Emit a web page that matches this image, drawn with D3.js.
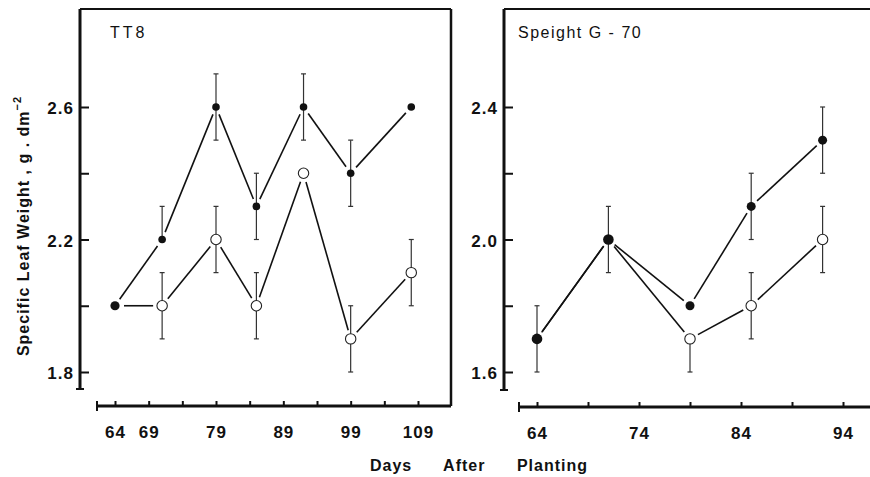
<!DOCTYPE html>
<html>
<head>
<meta charset="utf-8">
<script src="https://cdn.jsdelivr.net/npm/d3@7/dist/d3.min.js"></script>
<style>
body { margin: 0; background: #fff; }
text { font-family: "Liberation Sans", Arial, sans-serif; fill: #111; }
.tick text { font-size: 17px; font-weight: bold; letter-spacing: 1px; }
.tick line { stroke: #111; stroke-width: 2; }
.axisTitle { font-size: 16px; font-weight: bold; letter-spacing: 1px; }
.panelTitle { font-size: 16px; letter-spacing: 1.5px; }
</style>
</head>
<body>
<div id="canvas"></div>
<script>
"use strict"

// ---------------- DATA ----------------
// TT8
let tt8Days = [64, 71, 79, 85, 92, 99, 108]
let tt8Filled = [2.0, 2.2, 2.6, 2.3, 2.6, 2.4, 2.6]
let tt8FilledUp = [0, 0.1, 0.1, 0.1, 0.1, 0.1, 0]
let tt8FilledDown = [0, 0, 0.1, 0.1, 0.1, 0.1, 0]
let tt8Open = [2.0, 2.0, 2.2, 2.0, 2.4, 1.9, 2.1]
let tt8OpenUp = [0, 0.1, 0.1, 0.1, 0, 0.1, 0.1]
let tt8OpenDown = [0, 0.1, 0.1, 0.1, 0, 0.1, 0.1]
let tt8XTicks = [64, 69, 74, 79, 84, 89, 94, 99, 104, 109]
let tt8XLabels = [64, 69, 79, 89, 99, 109]
let tt8YTicks = [1.8, 2.0, 2.2, 2.4, 2.6]
let tt8YLabels = [1.8, 2.2, 2.6]

// Speight G-70
let spDays = [64, 71, 79, 85, 92]
let spFilled = [1.7, 2.0, 1.8, 2.1, 2.3]
let spFilledUp = [0.1, 0.1, 0, 0.1, 0.1]
let spFilledDown = [0.1, 0.1, 0, 0.1, 0.1]
let spOpen = [1.7, 2.0, 1.7, 1.8, 2.0]
let spOpenUp = [0, 0, 0, 0.1, 0.1]
let spOpenDown = [0, 0, 0.1, 0.1, 0.1]
let spXTicks = [64, 69, 74, 79, 84, 89, 94]
let spXLabels = [64, 74, 84, 94]
let spYTicks = [1.6, 1.8, 2.0, 2.2, 2.4]
let spYLabels = [1.6, 2.0, 2.4]

let svg = d3.select("#canvas")
    .append("svg")
    .attr("width", 870)
    .attr("height", 477)

function zipSeries(days, vals, up, down) {
    return days.map(function(d, i) {
        return { day: d, v: vals[i], up: up[i], down: down[i] }
    })
}

// ---------------- PANEL ----------------
function drawPanel(p) {

    let x = d3.scaleLinear().domain(p.xDomain).range(p.xRange)
    let y = d3.scaleLinear().domain(p.yDomain).range(p.yRange)

    let g = svg.append("g")

    // frame: top and right
    g.append("line")
        .attr("x1", p.axisX).attr("x2", p.rightX)
        .attr("y1", p.top).attr("y2", p.top)
        .attr("stroke", "#111").attr("stroke-width", 2)
    if (p.rightFrame) {
        g.append("line")
            .attr("x1", p.rightX).attr("x2", p.rightX)
            .attr("y1", p.top).attr("y2", p.xAxisY)
            .attr("stroke", "#111").attr("stroke-width", 2.5)
    }

    // y axis
    let yAxis = d3.axisLeft(y)
        .tickValues(p.yTicks)
        .tickSize(-9)
        .tickPadding(6)
        .tickFormat(function(d) {
            return p.yLabels.some(function(l) { return Math.abs(l - d) < 1e-9 }) ? d3.format(".1f")(d) : ""
        })
    let ya = g.append("g")
        .attr("transform", `translate(${p.axisX},0)`)
        .call(yAxis)
    ya.select(".domain").remove()
    ya.selectAll(".tick text").attr("dy", "0.4em")
    g.append("line")
        .attr("x1", p.axisX).attr("x2", p.axisX)
        .attr("y1", p.top).attr("y2", p.yBottom)
        .attr("stroke", "#111").attr("stroke-width", 3)
    g.append("line")
        .attr("x1", p.axisX - 4).attr("x2", p.axisX + 4)
        .attr("y1", p.yBottom).attr("y2", p.yBottom)
        .attr("stroke", "#111").attr("stroke-width", 2)

    // x axis
    let xAxis = d3.axisBottom(x)
        .tickValues(p.xTicks)
        .tickSize(-5)
        .tickPadding(20)
        .tickFormat(function(d) { return p.xLabels.includes(d) ? d : "" })
    let xa = g.append("g")
        .attr("transform", `translate(0,${p.xAxisY})`)
        .call(xAxis)
    xa.select(".domain").remove()
    g.append("line")
        .attr("x1", p.xStart).attr("x2", p.rightX)
        .attr("y1", p.xAxisY).attr("y2", p.xAxisY)
        .attr("stroke", "#111").attr("stroke-width", 3)
    g.append("line")
        .attr("x1", p.xStart).attr("x2", p.xStart)
        .attr("y1", p.xAxisY - 5).attr("y2", p.xAxisY + 5)
        .attr("stroke", "#111").attr("stroke-width", 2)

    // panel title
    g.append("text")
        .attr("class", "panelTitle")
        .attr("x", p.titleX)
        .attr("y", 38)
        .style("letter-spacing", p.titleSpacing + "px")
        .text(p.title)

    // connecting lines, stopped short of the markers
    function drawLines(series, gap) {
        for (let i = 0; i < series.length - 1; i++) {
            let x1 = x(series[i].day), y1 = y(series[i].v)
            let x2 = x(series[i + 1].day), y2 = y(series[i + 1].v)
            let len = Math.hypot(x2 - x1, y2 - y1)
            let ux = (x2 - x1) / len, uy = (y2 - y1) / len
            g.append("line")
                .attr("x1", x1 + ux * gap).attr("y1", y1 + uy * gap)
                .attr("x2", x2 - ux * gap).attr("y2", y2 - uy * gap)
                .attr("stroke", "#111")
                .attr("stroke-width", 1.6)
        }
    }
    drawLines(p.open, 9)
    drawLines(p.filled, 8)

    // error bars
    function drawErrors(series) {
        series.forEach(function(d) {
            if (d.up === 0 && d.down === 0) return
            let cx = x(d.day)
            let yTop = y(d.v + d.up), yBot = y(d.v - d.down)
            g.append("line")
                .attr("x1", cx).attr("x2", cx)
                .attr("y1", yTop).attr("y2", yBot)
                .attr("stroke", "#333").attr("stroke-width", 1.2)
            if (d.up > 0) {
                g.append("line")
                    .attr("x1", cx - 2.5).attr("x2", cx + 2.5)
                    .attr("y1", yTop).attr("y2", yTop)
                    .attr("stroke", "#333").attr("stroke-width", 1.2)
            }
            if (d.down > 0) {
                g.append("line")
                    .attr("x1", cx - 2.5).attr("x2", cx + 2.5)
                    .attr("y1", yBot).attr("y2", yBot)
                    .attr("stroke", "#333").attr("stroke-width", 1.2)
            }
        })
    }
    drawErrors(p.open)
    drawErrors(p.filled)

    // where an open point sits under a filled one, only a larger filled dot shows
    function coincides(d, i) {
        return Math.abs(p.filled[i].v - p.open[i].v) < 1e-9
    }

    g.selectAll("circle.open")
        .data(p.open.filter(function(d, i) { return !coincides(d, i) }))
        .enter()
        .append("circle")
        .attr("class", "open")
        .attr("cx", function(d) { return x(d.day) })
        .attr("cy", function(d) { return y(d.v) })
        .attr("r", 5.2)
        .attr("fill", "#fff")
        .attr("stroke", "#222")
        .attr("stroke-width", 1.1)

    g.selectAll("circle.filled")
        .data(p.filled)
        .enter()
        .append("circle")
        .attr("class", "filled")
        .attr("cx", function(d) { return x(d.day) })
        .attr("cy", function(d) { return y(d.v) })
        .attr("r", function(d, i) { return coincides(d, i) ? p.filledR + 0.8 : p.filledR })
        .attr("fill", "#111")
}

drawPanel({
    title: "TT8",
    titleX: 110,
    titleSpacing: 3,
    top: 9,
    axisX: 80,
    rightX: 451,
    rightFrame: true,
    yBottom: 389,
    xAxisY: 406,
    xStart: 97,
    xDomain: [64, 109],
    xRange: [115, 418],
    yDomain: [1.8, 2.6],
    yRange: [372, 107],
    xTicks: tt8XTicks,
    xLabels: tt8XLabels,
    yTicks: tt8YTicks,
    yLabels: tt8YLabels,
    filledR: 3.8,
    filled: zipSeries(tt8Days, tt8Filled, tt8FilledUp, tt8FilledDown),
    open: zipSeries(tt8Days, tt8Open, tt8OpenUp, tt8OpenDown)
})

drawPanel({
    title: "Speight G - 70",
    titleX: 518,
    titleSpacing: 1.5,
    top: 9,
    axisX: 504,
    rightX: 872,
    rightFrame: false,
    yBottom: 390,
    xAxisY: 407,
    xStart: 519,
    xDomain: [64, 94],
    xRange: [537, 843],
    yDomain: [1.6, 2.4],
    yRange: [372, 107],
    xTicks: spXTicks,
    xLabels: spXLabels,
    yTicks: spYTicks,
    yLabels: spYLabels,
    filledR: 4.5,
    filled: zipSeries(spDays, spFilled, spFilledUp, spFilledDown),
    open: zipSeries(spDays, spOpen, spOpenUp, spOpenDown)
})

// ---------------- AXIS TITLES ----------------
let yTitle = svg.append("text")
    .attr("class", "axisTitle")
    .attr("transform", "translate(29,226) rotate(-90)")
    .attr("text-anchor", "middle")
yTitle.append("tspan").text("Specific Leaf Weight , g . dm")
yTitle.append("tspan")
    .attr("dy", -8)
    .style("font-size", "11px")
    .text("−2")

svg.append("text")
    .attr("class", "axisTitle")
    .attr("x", 370)
    .attr("y", 471)
    .attr("word-spacing", 26)
    .text("Days After Planting")
</script>
</body>
</html>
